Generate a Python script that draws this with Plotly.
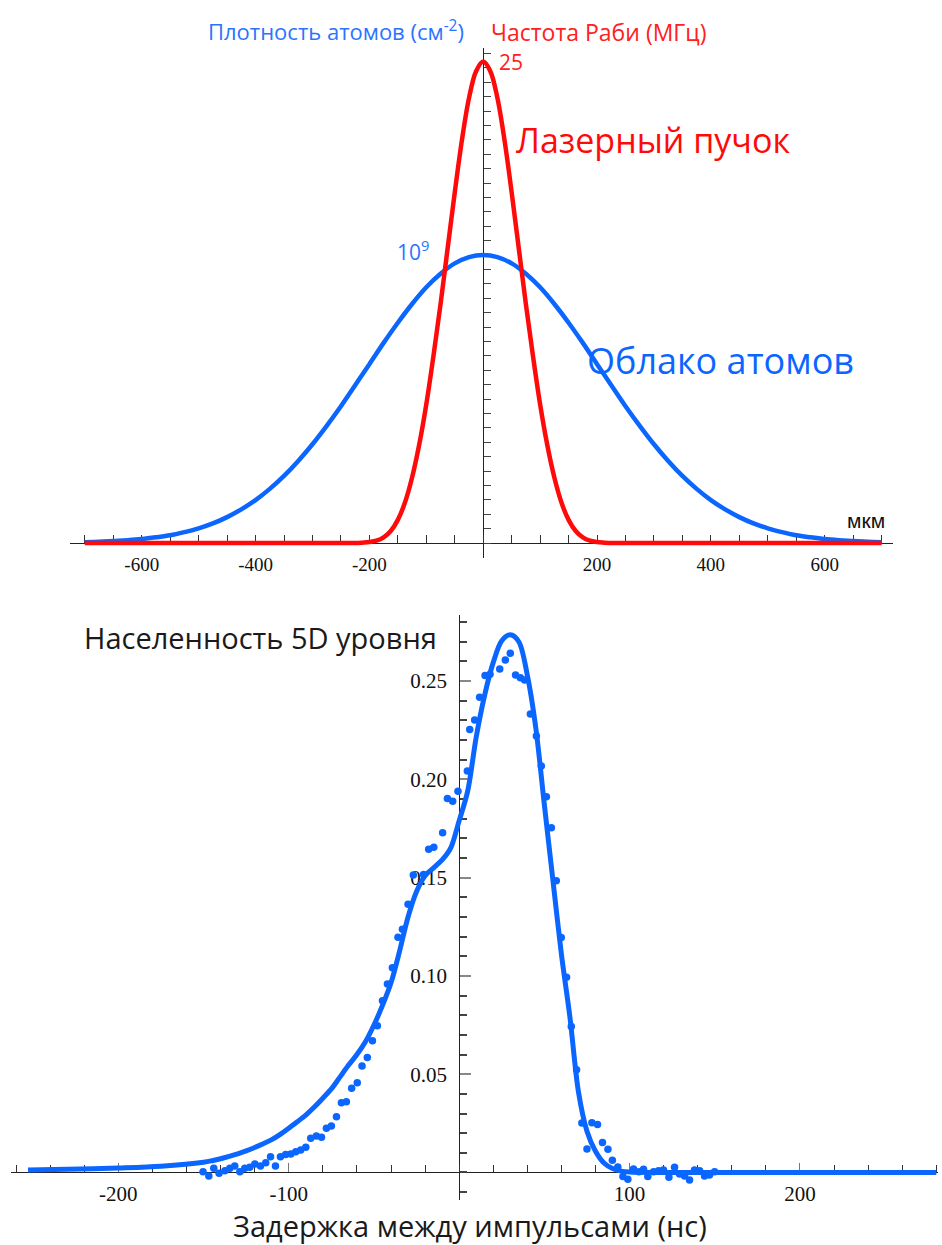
import plotly.graph_objects as go

W, H = 942, 1245

# ---------------- top panel data ----------------
# atom cloud density profile (units of 1e9 cm^-2) vs position (um)
cloud_x = [-700, -675, -650, -625, -600, -575, -550, -525, -500, -475, -450, -425, -400, -375,
           -350, -325, -300, -275, -250, -225, -200, -175, -150, -125, -100, -75, -50, -25,
           0, 25, 50, 75, 100, 125, 150, 175, 200, 225, 250, 275, 300, 325, 350, 375, 400,
           425, 450, 475, 500, 525, 550, 575, 600, 625, 650, 675, 700]
cloud_density = [0.003, 0.004, 0.007, 0.010, 0.014, 0.020, 0.027, 0.038, 0.051, 0.068, 0.090,
                 0.117, 0.149, 0.188, 0.233, 0.285, 0.343, 0.407, 0.475, 0.548, 0.621, 0.695,
                 0.765, 0.830, 0.888, 0.935, 0.971, 0.993,
                 1.000,
                 0.993, 0.971, 0.935, 0.888, 0.830, 0.765, 0.695, 0.621, 0.548, 0.475, 0.407,
                 0.343, 0.285, 0.233, 0.188, 0.149, 0.117, 0.090, 0.068, 0.051, 0.038, 0.027,
                 0.020, 0.014, 0.010, 0.007, 0.004, 0.003]

# laser beam Rabi frequency (MHz) vs position (um)
laser_x = [-700, -250, -225, -212.5, -200, -187.5, -175, -162.5, -150, -137.5, -125, -112.5,
           -100, -87.5, -75, -62.5, -50, -37.5, -25, -12.5, 0, 12.5, 25, 37.5, 50, 62.5, 75,
           87.5, 100, 112.5, 125, 137.5, 150, 162.5, 175, 187.5, 200, 212.5, 225, 250, 700]
laser_rabi = [0.0, 0.0, 0.0, 0.02, 0.05, 0.12, 0.29, 0.62, 1.2, 2.1, 3.4, 5.1,
              7.2, 9.7, 12.4, 15.3, 18.2, 20.9, 23.1, 24.5, 25.0, 24.5, 23.1, 20.9, 18.2, 15.3, 12.4,
              9.7, 7.2, 5.1, 3.4, 2.1, 1.2, 0.62, 0.29, 0.12, 0.05, 0.02, 0.0, 0.0, 0.0]

top_tickvals = [-600, -400, -200, 200, 400, 600]
top_ticktext = ["-600", "-400", "-200", "200", "400", "600"]

# ---------------- bottom panel data ----------------
fit_delay = [-253, -230, -200, -175, -150, -145, -140, -135, -130, -125, -120, -115, -110,
             -105, -100, -95, -90, -85, -80, -75, -70, -65, -60, -55, -50, -45, -40, -35,
             -30, -25, -20, -15, -10, -5, 0, 5, 10, 15, 20, 25, 30, 35, 40, 45, 50, 55, 60,
             65, 70, 75, 80, 85, 90, 95, 100, 120, 200, 280]
fit_pop = [0.0012, 0.0016, 0.0023, 0.0032, 0.0052, 0.0060, 0.0070, 0.0082, 0.0095, 0.0110,
           0.0127, 0.0146, 0.0167, 0.0194, 0.0225, 0.0258, 0.0292, 0.0333, 0.0378, 0.0425,
           0.0485, 0.0545, 0.0600, 0.0665, 0.0750, 0.0850, 0.0965, 0.1125, 0.1300, 0.1430,
           0.1510, 0.1550, 0.1590, 0.1650, 0.1790, 0.1940, 0.2215, 0.2430, 0.2595, 0.2705,
           0.2735, 0.2700, 0.2530, 0.2260, 0.1870, 0.1488, 0.1110, 0.0790, 0.0410, 0.0210,
           0.0108, 0.0048, 0.0020, 0.0007, 0.0002, 0.0, 0.0, 0.0]

exp_delay = [-150.3, -146.9, -144.0, -140.9, -137.5, -134.6, -131.7, -128.7, -125.8, -122.9,
             -119.9, -116.6, -113.5, -110.7, -107.8, -104.9, -101.8, -98.8, -95.9, -93.0,
             -90.0, -87.1, -83.8, -80.8, -77.9, -75.0, -72.0, -69.1, -66.2, -63.1,
             -59.8, -57.0, -53.9, -50.9, -48.0, -45.0, -42.1, -39.2, -35.9, -33.3,
             -30.0, -26.9, -20.9, -17.9, -14.9, -9.7, -6.9, -3.8, -0.7, 4.8,
             6.2, 9.1, 12.0, 15.2, 18.1, 23.8, 27.1, 30.0, 33.1, 35.9,
             38.4, 41.8, 45.3, 48.2, 51.2, 54.1, 57.0, 59.9, 63.0, 65.8,
             68.9, 72.0, 75.0, 77.9, 81.2, 84.1, 87.3, 89.9, 93.1, 96.1,
             99.0, 102.3, 105.5, 108.2, 110.7, 114.1, 117.0, 119.9, 123.1, 126.4,
             129.3, 132.3, 135.2, 138.1, 141.1, 144.0, 146.9, 149.9]
exp_pop = [0.0004, -0.0018, 0.0021, -0.0004, 0.0009, 0.0021, 0.0033, 0.0004, 0.0021, 0.0026,
           0.0043, 0.0033, 0.0050, 0.0080, 0.0033, 0.0080, 0.0092, 0.0094, 0.0106, 0.0114,
           0.0128, 0.0174, 0.0186, 0.0179, 0.0225, 0.0237, 0.0284, 0.0355, 0.0360, 0.0428,
           0.0457, 0.0542, 0.0585, 0.0670, 0.0747, 0.0874, 0.0959, 0.1042, 0.1197, 0.1237,
           0.1364, 0.1513, 0.1516, 0.1644, 0.1654, 0.1728, 0.1903, 0.1888, 0.1940, 0.2042,
           0.2254, 0.2302, 0.2417, 0.2528, 0.2535, 0.2561, 0.2607, 0.2641, 0.2531, 0.2517,
           0.2505, 0.2332, 0.2220, 0.2068, 0.1911, 0.1754, 0.1484, 0.1196, 0.0993, 0.0742,
           0.0523, 0.0252, 0.0120, 0.0253, 0.0244, 0.0152, 0.0118, 0.0062, 0.0028, -0.0021,
           -0.0035, 0.0018, 0.0004, 0.0016, -0.0021, 0.0004, 0.0009, 0.0013, -0.0024, 0.0026,
           -0.0008, -0.0018, -0.0038, 0.0013, 0.0009, -0.0018, -0.0013, 0.0004]

bot_xtickvals = [-200, -100, 100, 200]
bot_xticktext = ["-200", "-100", "100", "200"]
bot_ytickvals = [0.05, 0.10, 0.15, 0.20, 0.25]
bot_yticktext = ["0.05", "0.10", "0.15", "0.20", "0.25"]

# ---------------- styling / layout ----------------
BLUE = "#0A66FF"
RED = "#FF0A0A"
TICK_FONT = "Liberation Serif"
TEXT_FONT = "Open Sans"


def px_x(x):
    return x / W


def px_y(y):
    return 1 - y / H


def frac(v, rng, dom):
    return dom[0] + (v - rng[0]) / (rng[1] - rng[0]) * (dom[1] - dom[0])


# top panel geometry
top_xr = [-726, 720]
top_yr = [-0.052, 1.719]
red_peak_in_blue_units = 1.672
top_y3r = [v * 25 / red_peak_in_blue_units for v in top_yr]
top_xd = [px_x(70), px_x(893)]
top_yd = [px_y(558), px_y(48)]

# bottom panel geometry
bot_xr = [-263, 281]
bot_yr = [-0.014, 0.2836]
bot_xd = [px_x(11), px_x(938)]
bot_yd = [px_y(1200), px_y(615)]

fig = go.Figure()

fig.add_trace(go.Scatter(x=cloud_x, y=cloud_density, mode="lines", line_shape="spline",
                         line=dict(color=BLUE, width=4.5), xaxis="x", yaxis="y",
                         showlegend=False, hoverinfo="skip"))
fig.add_trace(go.Scatter(x=laser_x, y=laser_rabi, mode="lines", line_shape="spline",
                         line=dict(color=RED, width=4.5), xaxis="x", yaxis="y3",
                         showlegend=False, hoverinfo="skip"))

fig.add_trace(go.Scatter(x=fit_delay, y=fit_pop, mode="lines",
                         line=dict(color=BLUE, width=5, shape="spline", smoothing=0.9),
                         xaxis="x2", yaxis="y2", showlegend=False, hoverinfo="skip"))
fig.add_trace(go.Scatter(x=exp_delay, y=exp_pop, mode="markers",
                         marker=dict(color=BLUE, size=7.5, line=dict(width=0)),
                         xaxis="x2", yaxis="y2", showlegend=False, hoverinfo="skip"))

axis_common = dict(showgrid=False, zeroline=False, showline=True, linecolor="#222",
                   linewidth=1, layer="below traces")

fig.update_layout(
    width=W, height=H, autosize=False,
    margin=dict(l=0, r=0, t=0, b=0),
    paper_bgcolor="white", plot_bgcolor="white",
    xaxis=dict(**axis_common, domain=top_xd, range=top_xr, anchor="free",
               position=frac(0, top_yr, top_yd),
               tickmode="array", tickvals=top_tickvals, ticktext=top_ticktext,
               ticks="inside", ticklen=8, tickcolor="#333", tickwidth=1,
               ticklabelstandoff=4,
               tickfont=dict(family=TICK_FONT, size=19, color="#111"),
               minor=dict(ticks="inside", tickmode="linear", tick0=0, dtick=50,
                          ticklen=8, tickcolor="#333", showgrid=False)),
    yaxis=dict(**axis_common, domain=top_yd, range=top_yr, anchor="free",
               position=frac(0, top_xr, top_xd),
               tickmode="linear", tick0=0, dtick=0.05, ticks="inside", ticklen=7,
               tickcolor="#444", showticklabels=False),
    yaxis3=dict(range=top_y3r, overlaying="y", visible=False, showgrid=False,
                zeroline=False),
    xaxis2=dict(**axis_common, domain=bot_xd, range=bot_xr, anchor="free",
                position=frac(0, bot_yr, bot_yd),
                tickmode="array", tickvals=bot_xtickvals, ticktext=bot_xticktext,
                ticks="inside", ticklen=9, tickcolor="#777", tickwidth=1,
                ticklabelstandoff=2,
                tickfont=dict(family=TICK_FONT, size=21, color="#111"),
                minor=dict(ticks="inside", tickmode="linear", tick0=0, dtick=20,
                           ticklen=7, tickcolor="#333", showgrid=False)),
    yaxis2=dict(**axis_common, domain=bot_yd, range=bot_yr, anchor="free",
                position=frac(0, bot_xr, bot_xd),
                tickmode="array", tickvals=bot_ytickvals, ticktext=bot_yticktext,
                ticks="inside", ticklen=11, tickcolor="#888", tickwidth=1.5,
                ticklabelstandoff=8,
                tickfont=dict(family=TICK_FONT, size=21, color="#111"),
                minor=dict(ticks="inside", tickmode="linear", tick0=0, dtick=0.01,
                           ticklen=7, tickcolor="#444", showgrid=False)),
)


def label(text, x, y, size, color, family=TEXT_FONT, xanchor="center"):
    fig.add_annotation(text=text, x=px_x(x), y=px_y(y), xref="paper", yref="paper",
                       xanchor=xanchor, yanchor="middle", showarrow=False,
                       font=dict(family=family, size=size, color=color))


label("Плотность атомов (см<sup>-2</sup>)", 336, 31, 22, "#2a74ff")
label("Частота Раби (МГц)", 599, 32, 23, "#ff2020")
label("25", 497, 62, 21, "#ff2020", xanchor="left")
label("Лазерный пучок", 653, 140, 34, RED)
label("10<sup>9</sup>", 431, 250, 21, "#2a74ff", xanchor="right")
label("Облако атомов", 720, 360, 36, BLUE)
label("мкм", 866, 520, 21, "#111", family="Liberation Sans")

label("Населенность 5D уровня", 260, 637, 29, "#1a1a1a")
label("Задержка между импульсами (нс)", 470, 1225, 29, "#1a1a1a")

fig.write_html("out.html")
